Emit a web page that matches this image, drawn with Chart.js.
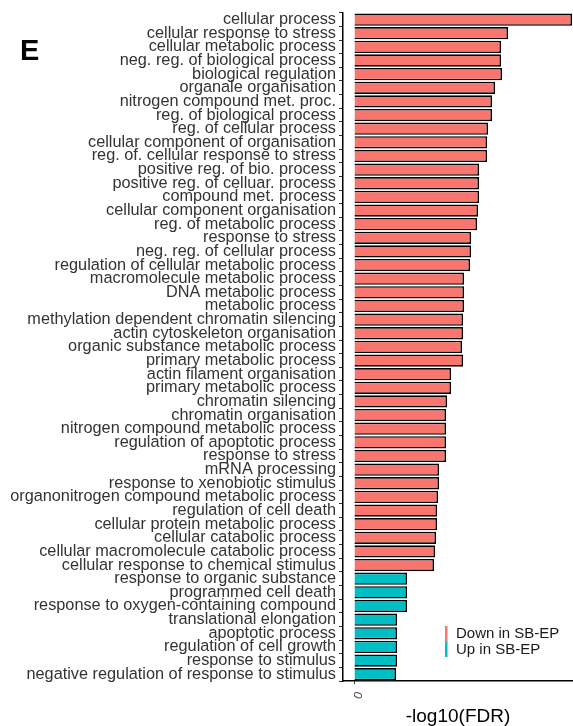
<!DOCTYPE html>
<html>
<head>
<meta charset="utf-8">
<script src="https://cdn.jsdelivr.net/npm/chart.js@4"></script>
<style>
  html, body { margin: 0; padding: 0; background: #ffffff; }
  #wrap { width: 573px; height: 726px; position: relative; }
</style>
</head>
<body>
<div id="wrap"><canvas id="c"></canvas></div>
<script>
// GO terms, top to bottom
const categories = [
  'cellular process',
  'cellular response to stress',
  'cellular metabolic process',
  'neg. reg. of biological process',
  'biological regulation',
  'organale organisation',
  'nitrogen compound met. proc.',
  'reg. of biological process',
  'reg. of cellular process',
  'cellular component of organisation',
  'reg. of. cellular response to stress',
  'positive reg. of bio. process',
  'positive reg. of celluar. process',
  'compound met. process',
  'cellular component organisation',
  'reg. of metabolic process',
  'response to stress',
  'neg. reg. of cellular process',
  'regulation of cellular metabolic process',
  'macromolecule metabolic process',
  'DNA metabolic process',
  'metabolic process',
  'methylation dependent chromatin silencing',
  'actin cytoskeleton organisation',
  'organic substance metabolic process',
  'primary metabolic process',
  'actin filament organisation',
  'primary metabolic process',
  'chromatin silencing',
  'chromatin organisation',
  'nitrogen compound metabolic process',
  'regulation of apoptotic process',
  'response to stress',
  'mRNA processing',
  'response to xenobiotic stimulus',
  'organonitrogen compound metabolic process',
  'regulation of cell death',
  'cellular protein metabolic process',
  'cellular catabolic process',
  'cellular macromolecule catabolic process',
  'cellular response to chemical stimulus',
  'response to organic substance',
  'programmed cell death',
  'response to oxygen-containing compound',
  'translational elongation',
  'apoptotic process',
  'regulation of cell growth',
  'response to stimulus',
  'negative regulation of response to stimulus'
];

// -log10(FDR) per term
const fdrScores = [
  21.8, 15.4, 14.7, 14.7, 14.8, 14.1, 13.8, 13.8, 13.4, 13.3,
  13.3, 12.5, 12.5, 12.5, 12.4, 12.3, 11.7, 11.7, 11.6, 11.0,
  11.0, 11.0, 10.9, 10.9, 10.8, 10.9, 9.7, 9.7, 9.3, 9.2,
  9.2, 9.2, 9.2, 8.5, 8.5, 8.4, 8.3, 8.3, 8.2, 8.1,
  8.0, 5.3, 5.3, 5.3, 4.3, 4.3, 4.3, 4.3, 4.2
];

// regulation direction per term (index into groupLabels)
const direction = [
  0, 0, 0, 0, 0, 0, 0, 0, 0, 0,
  0, 0, 0, 0, 0, 0, 0, 0, 0, 0,
  0, 0, 0, 0, 0, 0, 0, 0, 0, 0,
  0, 0, 0, 0, 0, 0, 0, 0, 0, 0,
  0, 1, 1, 1, 1, 1, 1, 1, 1
];

const groupLabels = ['Down in SB-EP', 'Up in SB-EP'];
const groupColors = ['#F8766D', '#00BFC4'];
const xTickValues = [0];
const axisTitle = '-log10(FDR)';
const panelLetter = 'E';

const FONT = '"Liberation Sans", Arial, Helvetica, sans-serif';

// panel letter and the colour key
const decorations = {
  id: 'decorations',
  afterDraw(chart) {
    const { ctx, chartArea } = chart;
    ctx.save();
    ctx.fillStyle = '#000000';
    ctx.font = 'bold 29px ' + FONT;
    ctx.textBaseline = 'alphabetic';
    ctx.textAlign = 'left';
    ctx.fillText(panelLetter, 20, 60);

    const keyX = chartArea.left + 102;
    const keyY = chartArea.bottom - 55;
    const rowH = 15.5;
    ctx.font = '15px ' + FONT;
    ctx.textBaseline = 'middle';
    groupLabels.forEach((name, i) => {
      ctx.fillStyle = groupColors[i];
      ctx.fillRect(keyX, keyY + i * rowH, 2.5, rowH);
      ctx.fillStyle = '#1a1a1a';
      ctx.fillText(name, keyX + 11, keyY + i * rowH + rowH / 2 + 0.5);
    });
    ctx.restore();
  }
};

new Chart(document.getElementById('c'), {
  type: 'bar',
  data: {
    labels: categories,
    datasets: [{
      data: fdrScores,
      backgroundColor: direction.map(d => groupColors[d]),
      borderColor: '#000000',
      borderWidth: 1.6,
      barPercentage: 0.9,
      categoryPercentage: 1.0
    }]
  },
  options: {
    indexAxis: 'y',
    responsive: true,
    maintainAspectRatio: false,
    animation: false,
    layout: { padding: { top: 11, right: 0, left: 0, bottom: 0 } },
    plugins: {
      legend: { display: false },
      tooltip: { enabled: false }
    },
    scales: {
      y: {
        type: 'category',
        offset: true,
        afterFit(scale) { scale.width = 343; },
        grid: {
          drawOnChartArea: false,
          drawTicks: true,
          tickLength: 4,
          color: '#333333',
          lineWidth: 1
        },
        border: { display: true, color: '#000000', width: 1.5 },
        ticks: {
          autoSkip: false,
          padding: 3,
          color: '#333333',
          font: { family: FONT, size: 16.3 }
        }
      },
      x: {
        type: 'linear',
        min: -1.1,
        max: 21.9,
        afterFit(scale) { scale.height = 45; },
        afterBuildTicks(scale) { scale.ticks = xTickValues.map(v => ({ value: v })); },
        grid: {
          drawOnChartArea: false,
          drawTicks: true,
          tickLength: 3,
          color: '#333333',
          lineWidth: 1
        },
        border: { display: true, color: '#000000', width: 1.5 },
        ticks: {
          minRotation: 70,
          maxRotation: 70,
          padding: 6,
          labelOffset: 6,
          color: '#4d4d4d',
          font: { family: FONT, size: 12 }
        },
        title: {
          display: true,
          text: axisTitle,
          color: '#000000',
          font: { family: FONT, size: 19 },
          padding: { top: -2, bottom: -2 }
        }
      }
    }
  },
  plugins: [decorations]
});
</script>
</body>
</html>
